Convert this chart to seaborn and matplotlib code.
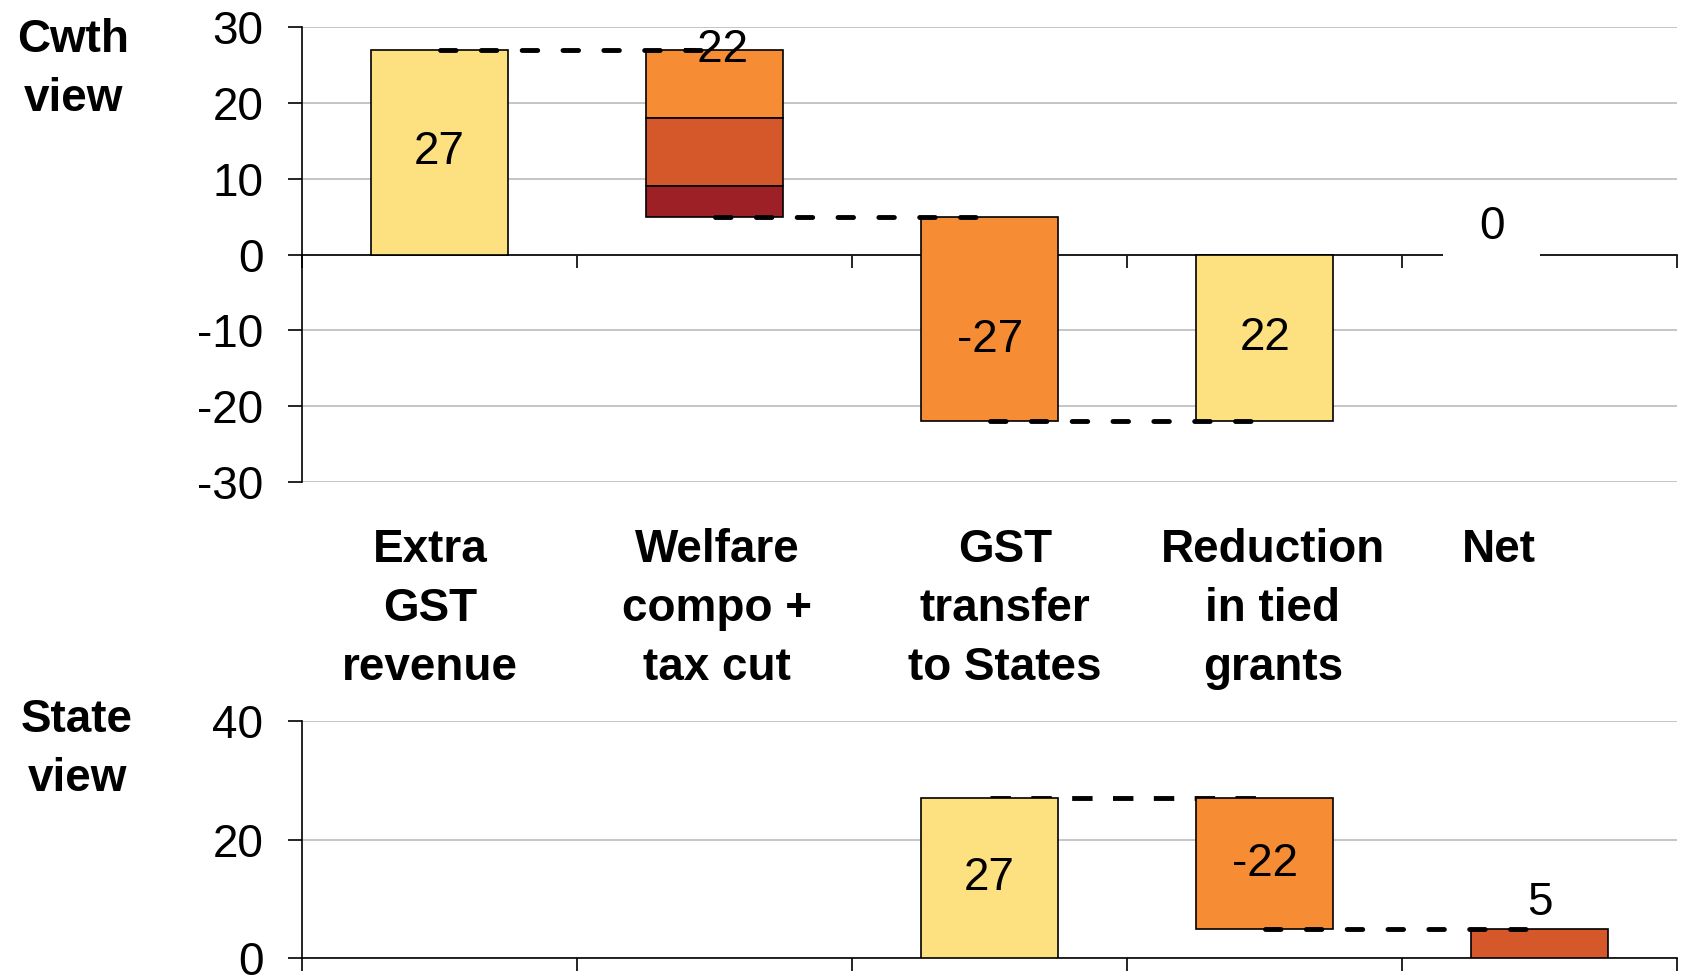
import matplotlib.pyplot as plt
import numpy as np
import seaborn as sns

# category names (shared x axis of both panels)
categories = ["Extra\nGST\nrevenue", "Welfare\ncompo +\ntax cut",
              "GST\ntransfer\nto States", "Reduction\nin tied\ngrants", "Net"]

# Commonwealth view: waterfall steps, welfare step split into three parts
cwth_steps = [27, -22, -27, 22]
welfare_parts = [-9, -9, -4]
cwth_label_pos = ["mid", "top", "mid", "mid"]
cwth_label_nudge = [0, 0, -2.7, 0]
cwth_link_front = [True, True, True, True]

# State view: only the last three categories
state_first = 2
state_steps = [27, -22]
state_label_pos = ["mid", "mid"]
state_label_nudge = [0, 0]
state_link_front = [False, True]

YELLOW = "#fde07f"
ORANGE = "#f68c33"
DARK_ORANGE = "#d4582a"
DARK_RED = "#9e2027"

cwth_colors = [YELLOW, [ORANGE, DARK_ORANGE, DARK_RED], ORANGE, YELLOW]
state_colors = [YELLOW, ORANGE]
net_color = DARK_ORANGE

# small shifts of the category captions, as in the original slide
caption_shift = [-0.035, 0.01, 0.055, 0.03, -0.15]

sns.set_theme(style="ticks")
plt.rcParams["font.family"] = ["Liberation Sans", "DejaVu Sans"]
plt.rcParams["axes.unicode_minus"] = False
plt.rcParams["text.color"] = "black"
FS = 33


def draw_bar(ax, cat, base, height, color):
    sns.barplot(x=[cat], y=[height], bottom=[base], order=categories,
                color=color, saturation=1, width=0.5, errorbar=None,
                edgecolor="black", linewidth=1.2, ax=ax, zorder=3)


def connector(ax, i, level, front):
    if front:
        ax.plot([i, i + 1], [level, level], color="black", lw=3.5,
                ls=(0, (3.2, 5.2)), dash_capstyle="round", zorder=5)
    else:
        ax.plot([i, i + 1], [level, level], color="black", lw=3.5,
                ls=(0, (4.2, 4.2)), dash_capstyle="butt", zorder=2.8)


def waterfall(ax, first, steps, colors, label_pos, nudge, front, parts=None):
    level = 0
    for k, step in enumerate(steps):
        i = first + k
        cat = categories[i]
        start, end = level, level + step
        if isinstance(colors[k], list):
            base = start
            for part, c in zip(parts, colors[k]):
                draw_bar(ax, cat, base + part, -part, c)
                base += part
        else:
            draw_bar(ax, cat, min(start, end), abs(step), colors[k])
        if label_pos[k] == "top":
            ly = max(start, end)
        else:
            ly = (start + end) / 2
        ax.text(i, ly + nudge[k], f"{step}", ha="center", va="center",
                fontsize=FS, zorder=6)
        level = end
        if level != 0:
            connector(ax, i, level, front[k])
    return level


def style_axes(ax, ymin, ymax, step):
    ax.set_xlim(-0.5, len(categories) - 0.5)
    ax.set_ylim(ymin, ymax)
    ax.set_yticks(np.arange(ymin, ymax + 1, step))
    ax.set_xticks(np.arange(-0.5, len(categories), 1))
    ax.set_xticklabels([])
    ax.set_xlabel("")
    ax.set_ylabel("")
    ax.yaxis.grid(True, color="#c0c0c0", lw=1.3)
    ax.set_axisbelow(True)
    for s in ["top", "right"]:
        ax.spines[s].set_visible(False)
    for s in ["left", "bottom"]:
        ax.spines[s].set_linewidth(1.2)
        ax.spines[s].set_color("black")
        ax.spines[s].set_zorder(2.5)
    ax.spines["bottom"].set_position(("data", 0))
    ax.tick_params(axis="y", length=10, width=1.2, pad=18, labelsize=FS, colors="black")
    ax.tick_params(axis="x", length=9, width=1.2, direction="out", colors="black")


fig = plt.figure(figsize=(16.88, 9.76), dpi=100)
ax_top = fig.add_axes([0.179, 0.506, 0.8146, 0.4662])
ax_bot = fig.add_axes([0.179, 0.018, 0.8146, 0.2428])

# Commonwealth view
net_cwth = waterfall(ax_top, 0, cwth_steps, cwth_colors, cwth_label_pos,
                     cwth_label_nudge, cwth_link_front, welfare_parts)
net_x = len(categories) - 1 + caption_shift[-1] - 0.025
ax_top.hlines(net_cwth, net_x - 0.175, net_x + 0.175, color="white", lw=3, zorder=5)
ax_top.text(net_x, net_cwth + 3.6, f"{net_cwth}", ha="center", va="center",
            fontsize=FS, zorder=6)
style_axes(ax_top, -30, 30, 10)

# State view
net_state = waterfall(ax_bot, state_first, state_steps, state_colors, state_label_pos,
                      state_label_nudge, state_link_front)
draw_bar(ax_bot, categories[-1], 0, net_state, net_color)
ax_bot.text(len(categories) - 1, net_state + 4.4, f"{net_state}", ha="center", va="center",
            fontsize=FS, zorder=6)
style_axes(ax_bot, 0, 40, 20)

# category captions between the panels
for i, cat in enumerate(categories):
    ax_top.text(i + caption_shift[i], -36.0, cat, ha="center", va="top",
                fontsize=FS, fontweight="bold", linespacing=1.45)

fig.text(73 / 1688, 1 - 18 / 976, "Cwth\nview", ha="center", va="top",
         fontsize=FS, fontweight="bold", linespacing=1.45)
fig.text(77 / 1688, 1 - 698 / 976, "State\nview", ha="center", va="top",
         fontsize=FS, fontweight="bold", linespacing=1.45)

fig.savefig("out.png", dpi=100)
